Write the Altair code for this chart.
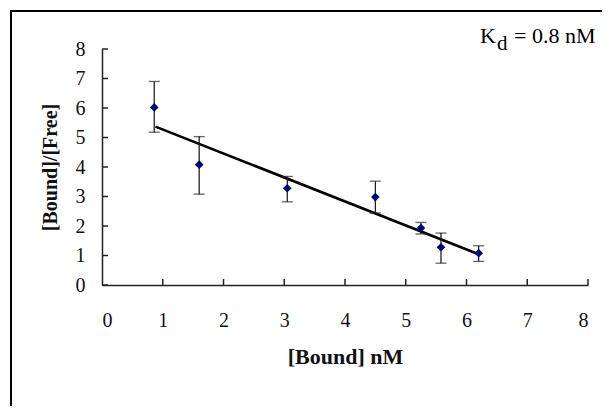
import altair as alt
import pandas as pd

# data
bound = [0.86, 1.60, 3.05, 4.50, 5.25, 5.58, 6.20]
ratio = [6.02, 4.08, 3.28, 2.98, 1.93, 1.28, 1.08]
err_lo = [5.18, 3.08, 2.82, 2.44, 1.73, 0.74, 0.80]
err_hi = [6.90, 5.03, 3.68, 3.52, 2.12, 1.76, 1.33]
fit_x = [0.88, 6.19]
fit_y = [5.37, 1.05]
x_ticks = [0, 1, 2, 3, 4, 5, 6, 7, 8]
y_ticks = [0, 1, 2, 3, 4, 5, 6, 7, 8]

W, H = 486, 236
FONT = "Liberation Serif"

pts = pd.DataFrame({"x": bound, "y": ratio, "lo": err_lo, "hi": err_hi})
fit = pd.DataFrame({"x": fit_x, "y": fit_y})
xt = pd.DataFrame({"t": x_ticks[1:]})
yt = pd.DataFrame({"t": y_ticks})

xs = alt.Scale(domain=[0, 8], nice=False)
ys = alt.Scale(domain=[0, 8], nice=False)

xaxis = alt.Axis(values=x_ticks, format="d", labelOverlap=False, ticks=False, grid=False,
                 domainColor="#222", domainWidth=1.5, labelFont=FONT, labelFontSize=20,
                 labelColor="#111", labelPadding=25, title="[Bound] nM", titleFont=FONT,
                 titleFontSize=22, titleFontWeight="bold", titleColor="#111", titlePadding=16)
yaxis = alt.Axis(values=y_ticks, format="d", labelOverlap=False, ticks=False, grid=False,
                 domainColor="#222", domainWidth=1.5, labelFont=FONT, labelFontSize=20,
                 labelColor="#111", labelPadding=17, title="[Bound]/[Free]", titleFont=FONT,
                 titleFontSize=20, titleFontWeight="bold", titleColor="#111", titlePadding=15)

X = alt.X("x:Q", scale=xs, axis=xaxis)
Y = alt.Y("y:Q", scale=ys, axis=yaxis)

base = alt.Chart(pts)

points = base.mark_point(shape="diamond", filled=True, color="#00007f", size=75, opacity=1).encode(
    x=X, y=Y)
bars = base.mark_rule(color="#222", strokeWidth=1.3).encode(
    x=X, y=alt.Y("lo:Q", scale=ys, axis=yaxis), y2="hi:Q")
cap_lo = base.mark_tick(color="#222", size=11, thickness=1.3, orient="horizontal").encode(
    x=X, y=alt.Y("lo:Q", scale=ys, axis=yaxis))
cap_hi = base.mark_tick(color="#222", size=11, thickness=1.3, orient="horizontal").encode(
    x=X, y=alt.Y("hi:Q", scale=ys, axis=yaxis))
line = alt.Chart(fit).mark_line(color="black", strokeWidth=2.6).encode(x=X, y=Y)

xtick = alt.Chart(xt).mark_rule(color="#222", strokeWidth=1.5).encode(
    x=alt.X("t:Q", scale=xs, axis=xaxis), y=alt.value(H), y2=alt.value(H - 6))
ytick = alt.Chart(yt).mark_rule(color="#222", strokeWidth=1.5).encode(
    y=alt.Y("t:Q", scale=ys, axis=yaxis), x=alt.value(0), x2=alt.value(6))

border = alt.Chart(pd.DataFrame({"a": [0]})).mark_rect(
    fill=None, stroke="black", strokeWidth=2).encode(
    x=alt.value(-91), x2=alt.value(W + 60), y=alt.value(-38), y2=alt.value(H + 200))

kd_k = alt.Chart(pd.DataFrame({"s": ["K"]})).mark_text(
    font=FONT, fontSize=22, align="left", baseline="alphabetic", color="black").encode(
    text="s:N", x=alt.value(378), y=alt.value(-6))
kd_d = alt.Chart(pd.DataFrame({"s": ["d"]})).mark_text(
    font=FONT, fontSize=21, align="left", baseline="alphabetic", color="black").encode(
    text="s:N", x=alt.value(395), y=alt.value(1))
kd_rest = alt.Chart(pd.DataFrame({"s": ["= 0.8 nM"]})).mark_text(
    font=FONT, fontSize=22, align="left", baseline="alphabetic", color="black").encode(
    text="s:N", x=alt.value(412), y=alt.value(-6))

chart = alt.layer(line, bars, cap_lo, cap_hi, points, xtick, ytick, border,
                  kd_k, kd_d, kd_rest).properties(
    width=W, height=H,
    autosize=alt.AutoSizeParams(type="none"),
    padding={"left": 94, "top": 41, "right": 14, "bottom": 121},
    background="white",
).configure_view(stroke=None)

chart.save("out.html", embed_options={"renderer": "svg", "actions": False})
